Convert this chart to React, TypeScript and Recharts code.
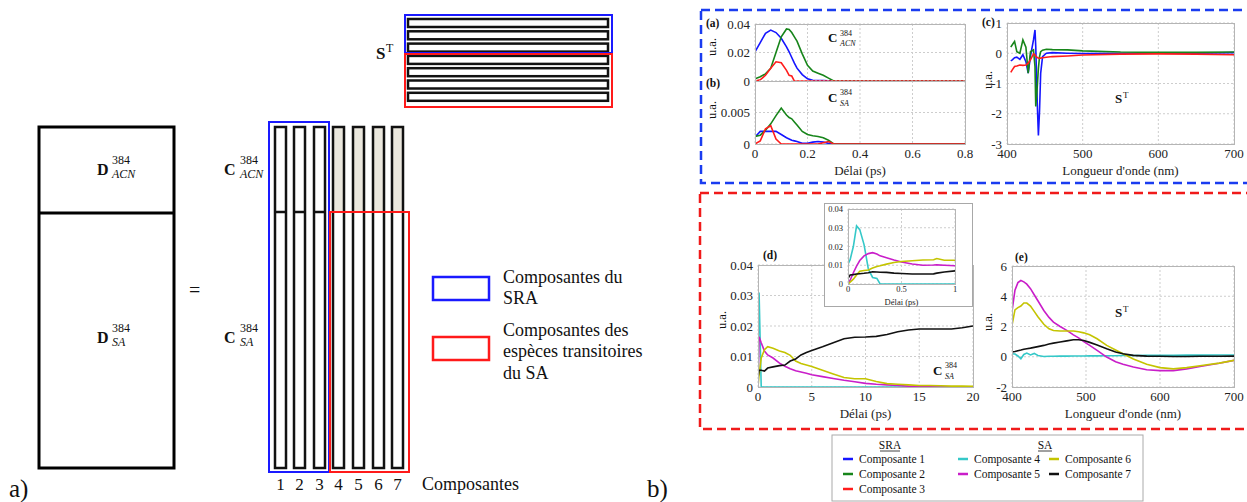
import { LineChart, Line, XAxis, YAxis, CartesianGrid } from "recharts"

const serif = "Liberation Serif, DejaVu Serif, serif"

// (a)/(b) delay grid in ps
const delayShort = [0, 0.02, 0.04, 0.06, 0.08, 0.1, 0.12, 0.13, 0.14, 0.15, 0.16, 0.18, 0.2, 0.22, 0.24, 0.26, 0.28, 0.3, 0.8]
const acnComp1 = [0.0205, 0.027, 0.0335, 0.0357, 0.034, 0.03, 0.024, 0.0205, 0.0165, 0.0125, 0.009, 0.0045, 0.0015, 0.0005, 0.0003, 0.0003, 0.0002, 0, 0]
const acnComp2 = [0.0015, 0.003, 0.005, 0.009, 0.02, 0.031, 0.0365, 0.0362, 0.034, 0.031, 0.028, 0.019, 0.011, 0.007, 0.0055, 0.004, 0.002, 0, 0]
const acnComp3 = [0, 0.0008, 0.004, 0.009, 0.0135, 0.0128, 0.0075, 0.004, 0.0035, 0, 0, 0, 0, 0, 0, 0, 0, 0, 0]
const saComp1 = [0.0011, 0.002, 0.002, 0.002, 0.002, 0.0015, 0.001, 0.0008, 0.0006, 0.0005, 0.0004, 0.0001, 0.0001, 0.0003, 0.0004, 0.0003, 0.0001, 0, 0]
const saComp2 = [0.0012, 0.0014, 0.0022, 0.0032, 0.0045, 0.0057, 0.0046, 0.0042, 0.004, 0.0035, 0.003, 0.002, 0.0015, 0.0013, 0.0012, 0.001, 0.0006, 0, 0]
const saComp3 = [0, 0.0005, 0.0024, 0.0029, 0.0008, 0, 0, 0, 0, 0, 0, 0, 0, 0, 0, 0.0002, 0.0004, 0, 0]

// (c) spectra of SRA components, nm
const waveC = [405, 407, 410, 413, 417, 421, 425, 428, 431, 435, 437, 438, 440, 441.5, 443, 444.5, 447, 452, 460, 480, 500, 550, 600, 650, 700]
const specComp1 = [-0.25, -0.22, -0.15, -0.13, -0.2, -0.05, -0.28, -0.66, -0.1, 0.44, 0.77, 0.22, -1.65, -2.72, -1.9, -0.66, -0.11, 0, 0.02, 0, -0.01, 0, 0, 0, 0.02]
const specComp2 = [0.2, 0.28, 0.39, 0.05, 0, 0.44, 0.2, -0.66, 0.05, 0.11, -0.44, -1.76, -1.1, -0.5, -0.11, 0.05, 0.1, 0.13, 0.12, 0.11, 0.08, 0.04, 0.03, 0.03, 0.04]
const specComp3 = [-0.63, -0.55, -0.44, -0.42, -0.39, -0.4, -0.39, -0.33, -0.22, -0.02, -0.05, -0.1, -0.14, -0.16, -0.17, -0.16, -0.15, -0.13, -0.11, -0.09, -0.06, -0.03, -0.02, -0.03, -0.05]

// (d) long delays, ps
const delayLong = [0, 0.1, 0.3, 0.6, 0.9, 1.4, 2, 2.5, 3, 3.5, 4, 4.5, 5, 6, 7, 8, 9, 10, 11, 12, 13, 14, 15, 16, 17, 18, 19, 20]
const longComp4 = [0.0106, 0.031, 0, 0, 0, 0, 0, 0, 0, 0, 0, 0, 0, 0, 0, 0, 0, 0, 0, 0, 0, 0, 0, 0, 0, 0, 0, 0]
const longComp5 = [0, 0.0165, 0.0145, 0.0118, 0.0105, 0.0095, 0.0078, 0.0068, 0.006, 0.0053, 0.0049, 0.0045, 0.004, 0.0034, 0.0028, 0.0022, 0.0017, 0.0012, 0.0009, 0.0007, 0.0005, 0.0003, 0.0002, 0.0001, 0, 0, 0, 0]
const longComp6 = [0, 0.004, 0.0095, 0.0122, 0.0132, 0.0127, 0.0118, 0.0113, 0.0104, 0.0085, 0.0077, 0.0072, 0.0067, 0.0055, 0.0043, 0.0031, 0.0027, 0.0027, 0.0018, 0.0011, 0.0009, 0.0007, 0.0005, 0.0005, 0.0004, 0.0003, 0.0003, 0.0002]
const longComp7 = [0.003, 0.0055, 0.0055, 0.0052, 0.0062, 0.0066, 0.007, 0.0072, 0.0085, 0.0092, 0.0105, 0.0113, 0.012, 0.0132, 0.0145, 0.0158, 0.0163, 0.0164, 0.0166, 0.0172, 0.0181, 0.0187, 0.019, 0.019, 0.019, 0.019, 0.0194, 0.02]

// inset of (d), first ps
const delayInset = [0, 0.02, 0.05, 0.08, 0.11, 0.15, 0.19, 0.23, 0.27, 0.3, 0.36, 0.43, 0.5, 0.6, 0.7, 0.8, 0.83, 0.9, 1]
const insetComp4 = [0.0106, 0.013, 0.02, 0.031, 0.029, 0.021, 0.008, 0.0035, 0.003, 0, 0, 0, 0, 0, 0, 0, 0, 0, 0]
const insetComp5 = [0, 0.002, 0.006, 0.0095, 0.0125, 0.015, 0.0162, 0.0167, 0.016, 0.015, 0.014, 0.0128, 0.0117, 0.0107, 0.01, 0.0101, 0.0102, 0.01, 0.0097]
const insetComp6 = [0, 0.001, 0.0026, 0.0048, 0.0068, 0.0072, 0.0075, 0.0085, 0.0093, 0.0097, 0.0106, 0.0115, 0.012, 0.0124, 0.0128, 0.0129, 0.0136, 0.0127, 0.0127]
const insetComp7 = [0.003, 0.0048, 0.005, 0.0053, 0.0055, 0.0057, 0.006, 0.0065, 0.0064, 0.0063, 0.0062, 0.0058, 0.0056, 0.0053, 0.0053, 0.0054, 0.0058, 0.0064, 0.007]

// (e) spectra of SA transient species, nm
const waveE = [400, 404, 408, 412, 416, 420, 425, 430, 435, 443, 450, 456, 465, 474, 483, 490, 497, 505, 515, 528, 540, 550, 564, 582, 600, 618, 636, 654, 680, 700]
const specComp4 = [0.2, 0.18, 0.05, -0.13, 0.15, 0.24, 0.12, 0.22, 0.08, 0.02, 0.03, 0.03, 0.04, 0.04, 0.05, 0.05, 0.05, 0.06, 0.06, 0.07, 0.07, 0.08, 0.08, 0.09, 0.1, 0.1, 0.11, 0.11, 0.12, 0.12]
const specComp5 = [3.0, 4.4, 4.9, 5.04, 4.95, 4.8, 4.5, 4.1, 3.7, 3.06, 2.6, 2.29, 2.0, 1.74, 1.45, 1.25, 1.0, 0.75, 0.42, -0.02, -0.33, -0.5, -0.68, -0.86, -0.92, -0.92, -0.8, -0.64, -0.43, -0.24]
const specComp6 = [2.07, 3.1, 3.25, 3.35, 3.55, 3.55, 3.35, 3.0, 2.65, 2.15, 1.85, 1.74, 1.7, 1.7, 1.7, 1.65, 1.58, 1.45, 1.19, 0.75, 0.45, 0.2, -0.15, -0.5, -0.72, -0.8, -0.72, -0.6, -0.42, -0.24]
const specComp7 = [0.31, 0.35, 0.4, 0.44, 0.49, 0.53, 0.57, 0.62, 0.67, 0.75, 0.84, 0.9, 0.97, 1.05, 1.12, 1.12, 1.08, 0.95, 0.78, 0.53, 0.32, 0.2, 0.09, 0.04, 0.03, 0.02, 0.02, 0.03, 0.03, 0.04]

const compNames = ["Composante 1", "Composante 2", "Composante 3", "Composante 4", "Composante 5", "Composante 6", "Composante 7"]
const compColors = ["#1515ff", "#17851a", "#ff1c1c", "#35c8c8", "#c91ec9", "#c4c400", "#111111"]

const rows = (xs: number[], cols: Record<string, number[]>) =>
  xs.map((x, i) => {
    const r: Record<string, number> = { x }
    for (const k in cols) r[k] = cols[k][i]
    return r
  })

const dataA = rows(delayShort, { c1: acnComp1, c2: acnComp2, c3: acnComp3 })
const dataB = rows(delayShort, { c1: saComp1, c2: saComp2, c3: saComp3 })
const dataC = rows(waveC, { c1: specComp1, c2: specComp2, c3: specComp3 })
const dataD = rows(delayLong, { c4: longComp4, c5: longComp5, c6: longComp6, c7: longComp7 })
const dataInset = rows(delayInset, { c4: insetComp4, c5: insetComp5, c6: insetComp6, c7: insetComp7 })
const dataE = rows(waveE, { c4: specComp4, c5: specComp5, c6: specComp6, c7: specComp7 })

type PanelProps = {
  x: number
  y: number
  w: number
  h: number
  data: Record<string, number>[]
  keys: string[]
  xDomain: [number, number]
  xTicks: number[]
  yDomain: [number, number]
  yTicks: number[]
  xLabel?: string
  hideX?: boolean
  fs?: number
  xAxisH?: number
  tickGap?: number
}

function Panel(p: PanelProps) {
  const yW = 50
  const top = 8
  const right = 10
  const bottom = p.hideX ? 12 : 6
  const fs = p.fs ?? 13
  const gap = p.tickGap ?? 5
  const xH = p.hideX ? 0 : p.xAxisH ?? 31
  return (
    <div style={{ position: "absolute", left: p.x - yW, top: p.y - top }}>
      <LineChart
        width={yW + p.w + right}
        height={top + p.h + xH + bottom}
        data={p.data}
        margin={{ top, right, bottom, left: 0 }}
        style={{ fontFamily: serif }}
      >
        <CartesianGrid stroke="#cdcdcd" strokeDasharray="2 2" />
        <XAxis
          type="number"
          dataKey="x"
          domain={p.xDomain}
          ticks={p.xTicks}
          interval={0}
          allowDataOverflow
          hide={p.hideX}
          height={xH}
          tickLine={false}
          axisLine={false}
          tickSize={gap - 2}
          tickMargin={2}
          tick={{ fontSize: fs, fill: "#222", fontFamily: serif }}
          label={p.xLabel ? { value: p.xLabel, position: "insideBottom", offset: 0, fontSize: fs, fill: "#222", fontFamily: serif } : undefined}
        />
        <YAxis
          type="number"
          domain={p.yDomain}
          ticks={p.yTicks}
          interval={0}
          allowDataOverflow
          width={yW}
          tickLine={false}
          axisLine={false}
          tickSize={3}
          tickMargin={2}
          tick={{ fontSize: fs, fill: "#222", fontFamily: serif }}
        />
        {p.keys.map((k) => (
          <Line
            key={k}
            type="linear"
            dataKey={k}
            stroke={compColors[Number(k.slice(1)) - 1]}
            strokeWidth={1.6}
            dot={false}
            activeDot={false}
            isAnimationActive={false}
          />
        ))}
      </LineChart>
      <div
        style={{
          position: "absolute",
          left: yW,
          top,
          width: p.w + 1,
          height: p.h + 1,
          border: "1px solid #b5b5b5",
          boxSizing: "border-box",
          pointerEvents: "none",
        }}
      />
    </div>
  )
}

// bold symbol with stacked superscript / subscript
function Sym({ x, y, base, sup, sub, size, small, bw, supDy, subDy }: any) {
  return (
    <g fontFamily={serif} fill="#111">
      <text x={x} y={y} fontSize={size} fontWeight="bold">{base}</text>
      {sup && <text x={x + bw} y={y + supDy} fontSize={small}>{sup}</text>}
      {sub && <text x={x + bw} y={y + subDy} fontSize={small} fontStyle="italic">{sub}</text>}
    </g>
  )
}

const colX = [275, 294, 314, 333, 353, 373, 392]
const blue = "#1a1aff"
const red = "#ff1a1a"

function Diagram() {
  return (
    <g fontFamily={serif} fill="none">
      <rect x={39} y={127} width={135} height={341} stroke="#000" strokeWidth={3} />
      <line x1={39} x2={174} y1={213} y2={213} stroke="#000" strokeWidth={3} />
      <Sym x={97} y={175} base="D" sup="384" sub="ACN" size={16} small={12} bw={15} supDy={-11} subDy={3} />
      <Sym x={97} y={343} base="D" sup="384" sub="SA" size={16} small={12} bw={15} supDy={-11} subDy={3} />
      <text x={189} y={297} fontSize={20} fill="#111">=</text>
      <Sym x={224} y={175} base="C" sup="384" sub="ACN" size={16} small={12} bw={16} supDy={-11} subDy={3} />
      <Sym x={224} y={343} base="C" sup="384" sub="SA" size={16} small={12} bw={16} supDy={-11} subDy={3} />
      {colX.map((cx, i) => (
        <g key={cx}>
          {i >= 3 && <rect x={cx} y={127} width={11} height={85} fill="#ebe8de" />}
          <rect x={cx} y={127} width={11} height={341} stroke="#111" strokeWidth={2.5} />
          {i < 3 && <line x1={cx} x2={cx + 11} y1={212} y2={212} stroke="#111" strokeWidth={2.5} />}
          <text x={cx + 5.5} y={490} fontSize={17} fill="#111" textAnchor="middle">{i + 1}</text>
        </g>
      ))}
      <rect x={269} y={122} width={60} height={350} stroke={blue} strokeWidth={2} />
      <rect x={330} y={212} width={79} height={260} stroke={red} strokeWidth={2} />
      <text x={422} y={490} fontSize={18} fill="#111">Composantes</text>
      {colX.map((_, i) => (
        <rect key={i} x={408} y={19 + i * 12.3} width={200} height={8} stroke="#111" strokeWidth={2.5} />
      ))}
      <rect x={405} y={15} width={207} height={38} stroke={blue} strokeWidth={2} />
      <rect x={405} y={54} width={207} height={53} stroke={red} strokeWidth={2} />
      <Sym x={376} y={59} base="S" sup="T" size={17} small={12} bw={10} supDy={-7} />
      <rect x={433} y={277} width={56} height={23} stroke={blue} strokeWidth={2.5} />
      <rect x={433} y={337} width={56} height={23} stroke={red} strokeWidth={2.5} />
      <g fill="#111" fontSize={18}>
        <text x={503} y={283}>Composantes du</text>
        <text x={503} y={304}>SRA</text>
        <text x={503} y={336}>Composantes des</text>
        <text x={503} y={357}>espèces transitoires</text>
        <text x={503} y={379}>du SA</text>
      </g>
      <text x={9} y={497} fontSize={25} fill="#111">a)</text>
      <text x={647} y={497} fontSize={25} fill="#111">b)</text>
    </g>
  )
}

const legendPos: [number, number][] = [
  [843, 459],
  [843, 474],
  [843, 489],
  [958, 459],
  [958, 474],
  [1049, 459],
  [1049, 474],
]

function Annotations() {
  const ua = [
    [712, 47],
    [712, 110],
    [988, 80],
    [722, 320],
    [988, 322],
  ]
  const letters: [string, number, number][] = [
    ["(a)", 706, 27],
    ["(b)", 706, 87],
    ["(c)", 982, 26],
    ["(d)", 763, 259],
    ["(e)", 1015, 261],
  ]
  return (
    <g fontFamily={serif} fill="#111">
      <rect x={701} y={10} width={560} height={173} fill="none" stroke="#1a3cf0" strokeWidth={2.5} strokeDasharray="9 5" />
      <rect x={700} y={193} width={560} height={236} fill="none" stroke="#f01a1a" strokeWidth={2.5} strokeDasharray="9 5" />
      {ua.map(([x, y]) => (
        <text key={`${x}-${y}`} x={x} y={y} fontSize={12.5} textAnchor="middle" dominantBaseline="central" transform={`rotate(-90 ${x} ${y})`}>
          u.a.
        </text>
      ))}
      {letters.map(([t, x, y]) => (
        <text key={t} x={x} y={y} fontSize={11.5} fontWeight="bold">{t}</text>
      ))}
      <Sym x={828} y={42} base="C" sup="384" sub="ACN" size={13} small={8} bw={12} supDy={-6} subDy={4} />
      <Sym x={828} y={102} base="C" sup="384" sub="SA" size={13} small={8} bw={12} supDy={-7} subDy={4} />
      <Sym x={933} y={375} base="C" sup="384" sub="SA" size={13} small={8} bw={12} supDy={-7} subDy={4} />
      <Sym x={1115} y={103} base="S" sup="T" size={13} small={9} bw={8} supDy={-5} />
      <Sym x={1115} y={317} base="S" sup="T" size={13} small={9} bw={8} supDy={-5} />
      {/* legend */}
      <rect x={832} y={435} width={311} height={66} fill="#fff" stroke="#aaa" strokeWidth={1} />
      <g fontSize={11.5}>
        <text x={890} y={449} textAnchor="middle">SRA</text>
        <line x1={880} x2={900} y1={451} y2={451} stroke="#111" strokeWidth={0.8} />
        <text x={1045} y={449} textAnchor="middle">SA</text>
        <line x1={1038} x2={1052} y1={451} y2={451} stroke="#111" strokeWidth={0.8} />
        {compNames.map((name, i) => {
          const [lx, ly] = legendPos[i]
          return (
            <g key={name}>
              <line x1={lx} x2={lx + 10} y1={ly} y2={ly} stroke={compColors[i]} strokeWidth={2.5} />
              <text x={lx + 16} y={ly + 4}>{name}</text>
            </g>
          )
        })}
      </g>
    </g>
  )
}

export default function App() {
  return (
    <div style={{ position: "absolute", left: 0, top: 0, width: 1247, height: 502, background: "#fff", overflow: "hidden", fontFamily: serif }}>
      <Panel x={755} y={24} w={210} h={57} data={dataA} keys={["c1", "c2", "c3"]} xDomain={[0, 0.8]} xTicks={[0, 0.2, 0.4, 0.6, 0.8]} yDomain={[0, 0.04]} yTicks={[0, 0.02, 0.04]} hideX />
      <Panel x={755} y={81} w={210} h={63} data={dataB} keys={["c1", "c2", "c3"]} xDomain={[0, 0.8]} xTicks={[0, 0.2, 0.4, 0.6, 0.8]} yDomain={[0, 0.01]} yTicks={[0, 0.005]} xLabel="Délai (ps)" />
      <Panel x={1007} y={23} w={227} h={121} data={dataC} keys={["c1", "c2", "c3"]} xDomain={[400, 700]} xTicks={[400, 500, 600, 700]} yDomain={[-3, 1]} yTicks={[-3, -2, -1, 0, 1]} xLabel="Longueur d'onde (nm)" />
      <Panel x={758} y={265} w={215} h={122} data={dataD} keys={["c4", "c5", "c6", "c7"]} xDomain={[0, 20]} xTicks={[0, 5, 10, 15, 20]} yDomain={[0, 0.04]} yTicks={[0, 0.01, 0.02, 0.03, 0.04]} xLabel="Délai (ps)" />
      <Panel x={1012} y={266} w={222} h={121} data={dataE} keys={["c4", "c5", "c6", "c7"]} xDomain={[400, 700]} xTicks={[400, 500, 600, 700]} yDomain={[-2, 6]} yTicks={[-2, 0, 2, 4, 6]} xLabel="Longueur d'onde (nm)" />
      <div style={{ position: "absolute", left: 824, top: 203, width: 149, height: 104, background: "#fff", border: "1px solid #a8a8a8", boxSizing: "border-box" }} />
      <Panel x={848} y={209} w={107} h={75} data={dataInset} keys={["c4", "c5", "c6", "c7"]} xDomain={[0, 1]} xTicks={[0, 0.5, 1]} yDomain={[0, 0.04]} yTicks={[0, 0.01, 0.02, 0.03, 0.04]} xLabel="Délai (ps)" fs={8.5} xAxisH={21} tickGap={2} />
      <svg width={1247} height={502} style={{ position: "absolute", left: 0, top: 0, pointerEvents: "none" }}>
        <Diagram />
        <Annotations />
      </svg>
    </div>
  )
}
